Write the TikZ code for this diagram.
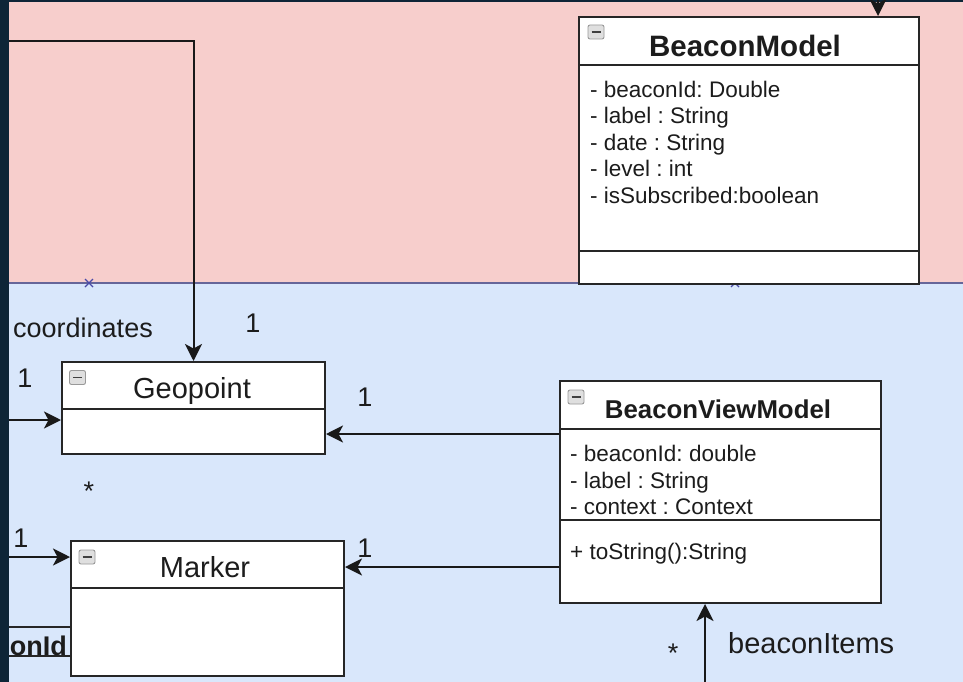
\documentclass[tikz,border=0pt]{standalone}
\usepackage{fontspec}
\setmainfont{Liberation Sans}
\usetikzlibrary{arrows.meta}
\definecolor{dark}{HTML}{0E2537}
\definecolor{pinkbg}{HTML}{F7CECC}
\definecolor{bluebg}{HTML}{D9E7FB}
\definecolor{txt}{HTML}{1C1C1C}
\definecolor{xmark}{HTML}{4A4AA8}
\frenchspacing
\begin{document}
\frenchspacing
\begin{tikzpicture}[x=1pt,y=-1pt,
  cls/.style n args={2}{draw=black!85, fill=white, line width=2pt, minimum width=#1, minimum height=#2, anchor=north west, inner sep=0pt},
  sep/.style={draw=black!85, line width=2pt},
  arr/.style={draw=black!90, line width=2pt, -{Stealth[length=17pt,width=17pt,inset=4.5pt]}},
  ttl/.style={font=\fontsize{29}{34}\selectfont, text=txt, anchor=base, inner sep=0pt},
  bttl/.style={font=\fontsize{#1}{34}\selectfont\bfseries, text=txt, anchor=base, inner sep=0pt},
  attr/.style={font=\fontsize{22.5}{26}\selectfont, text=txt, anchor=base west, inner sep=0pt},
  lbl/.style={font=\fontsize{27}{32}\selectfont, text=txt, anchor=base, inner sep=0pt},
  xm/.style={draw=xmark, line width=1.3pt},
  minusicon/.pic={
    \draw[draw=gray!80, fill=gray!25, line width=0.9pt, rounded corners=2pt] (-8,-7) rectangle (8,7);
    \draw[black!75, line width=1.8pt] (-4.5,0) -- (4.5,0);
  }
]
\useasboundingbox (0,0) rectangle (963,682);
% backgrounds
\fill[dark] (0,0) rectangle (963,682);
\fill[pinkbg] (9,2) rectangle (963,283);
\fill[bluebg] (9,283) rectangle (963,682);
\draw[gray!80!blue, line width=1.2pt] (9,283) -- (963,283);
\coordinate (x1) at (89,283);
\coordinate (x2) at (735,283);
\draw[xm] ([shift={(-4,-4)}]x1) -- ([shift={(4,4)}]x1) ([shift={(-4,4)}]x1) -- ([shift={(4,-4)}]x1);
\draw[xm] ([shift={(-4,-4)}]x2) -- ([shift={(4,4)}]x2) ([shift={(-4,4)}]x2) -- ([shift={(4,-4)}]x2);

% BeaconModel
\node[cls={340pt}{267pt}] (bm) at (578,16) {};
\draw[sep] (578,65) -- (918,65);
\draw[sep] (578,251) -- (918,251);
\pic at (596,32) {minusicon};
\node[bttl=29.5] (bmt) at (745,57) {BeaconModel};
\node[attr] (bma1) at (590,98) {- beaconId: Double};
\node[attr] (bma2) at (590,124) {- label : String};
\node[attr] (bma3) at (590,150) {- date : String};
\node[attr] (bma4) at (590,176) {- level : int};
\node[attr] (bma5) at (590,203) {- isSubscribed:boolean};

% Geopoint
\node[cls={263pt}{92pt}] (gp) at (61,361) {};
\draw[sep] (61,409) -- (324,409);
\pic at (77.5,377.5) {minusicon};
\node[ttl] (gpt) at (192,398) {Geopoint};

% Marker
\node[cls={273pt}{135pt}] (mk) at (70,540) {};
\draw[sep] (70,588) -- (343,588);
\pic at (87,557) {minusicon};
\node[ttl] (mkt) at (205,577) {Marker};

% BeaconViewModel
\node[cls={321pt}{222pt}] (bvm) at (559,380) {};
\draw[sep] (559,429) -- (880,429);
\draw[sep] (559,520) -- (880,520);
\pic at (576,397) {minusicon};
\node[bttl=25.8] (bvmt) at (718,418) {BeaconViewModel};
\node[attr] (bva1) at (570,461) {- beaconId: double};
\node[attr] (bva2) at (570,488) {- label : String};
\node[attr] (bva3) at (570,514) {- context : Context};
\node[attr] (bvm1) at (570,559) {+ toString():String};

% partial box at left
\draw[sep] (9,627) -- (70,627);
\draw[sep] (9,656) -- (70,656);
\begin{scope}
\clip (9,600) rectangle (70,660);
\node[font=\fontsize{27}{32}\selectfont\bfseries, text=txt, anchor=base east, inner sep=0pt] (onid) at (67,655) {onId};
\end{scope}

% connectors
\coordinate (in1) at (9,41);
\draw[arr] (in1) -| (gp.north);
\coordinate (in2) at (9,420);
\draw[arr] (in2) -- (in2 -| gp.west);
\coordinate (in3) at (9,557);
\draw[arr] (in3) -- (in3 -| mk.west);
\draw[arr] ([yshift=58pt]bvm.west) -- ([yshift=58pt]bvm.west -| gp.east);
\draw[arr] ([yshift=-75pt]bvm.west) -- ([yshift=-75pt]bvm.west -| mk.east);
\coordinate (in4) at (705,682);
\draw[arr] (in4) -- (in4 |- bvm.south);
\coordinate (in5) at (878,0);
\draw[arr] (in5) -- (in5 |- bm.north);

% labels
\node[lbl, anchor=base west] (lcoord) at (13,337) {coordinates};
\node[lbl] (l1a) at (253,332) {1};
\node[lbl] (l1b) at (25,387) {1};
\node[lbl] (l1c) at (365,406) {1};
\node[lbl] (l1d) at (21,547) {1};
\node[lbl] (l1e) at (365,557) {1};
\node[lbl] (st1) at (89,500) {*};
\node[lbl] (st2) at (673,662) {*};
\node[font=\fontsize{29}{34}\selectfont, text=txt, anchor=base west, inner sep=0pt] (lbi) at (728,653) {beaconItems};
\end{tikzpicture}
\end{document}
